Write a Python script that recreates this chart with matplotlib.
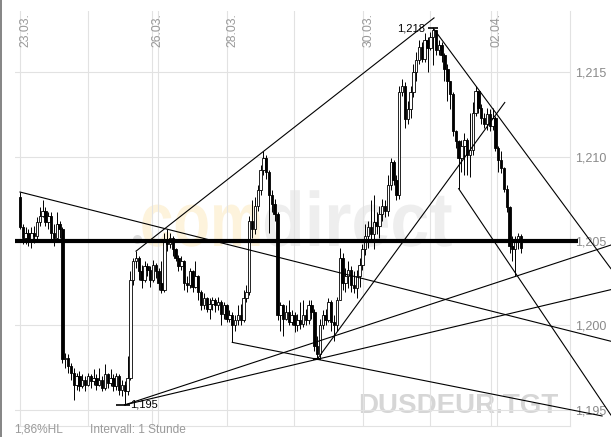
import numpy as np
import matplotlib
matplotlib.use('Agg')
import matplotlib.pyplot as plt
from matplotlib.textpath import TextPath
from matplotlib.patches import PathPatch
from matplotlib.font_manager import FontProperties
from matplotlib.transforms import Affine2D
from matplotlib.lines import Line2D
from matplotlib.ticker import FuncFormatter

plt.rcParams['font.family'] = ['Liberation Sans', 'DejaVu Sans']

W, H = 611, 437

# hourly candles, USD/EUR, open of the first candle, then close / high / low
first_open = 1.2076
closes = [1.2058, 1.2052, 1.2055, 1.2051, 1.2055, 1.2053, 1.2061, 1.2065, 1.2068, 1.2061,
          1.2065, 1.2055, 1.2052, 1.2060, 1.2057, 1.1980, 1.1981, 1.1976, 1.1972, 1.1965,
          1.1970, 1.1964, 1.1968, 1.1965, 1.1970, 1.1967, 1.1969, 1.1965, 1.1968, 1.1963,
          1.1971, 1.1966, 1.1969, 1.1964, 1.1970, 1.1962, 1.1965, 1.1961, 1.1969, 1.2027,
          1.2038, 1.2040, 1.2032, 1.2027, 1.2035, 1.2033, 1.2027, 1.2036, 1.2032, 1.2025,
          1.2021, 1.2051, 1.2048, 1.2052, 1.2045, 1.2040, 1.2035, 1.2038, 1.2025, 1.2024,
          1.2032, 1.2023, 1.2029, 1.2020, 1.2012, 1.2016, 1.2010, 1.2013, 1.2015, 1.2012,
          1.2014, 1.2007, 1.2012, 1.2004, 1.2006, 1.2000, 1.2003, 1.2006, 1.2003, 1.2016,
          1.2020, 1.2062, 1.2057, 1.2071, 1.2080, 1.2092, 1.2099, 1.2091, 1.2077, 1.2072,
          1.2066, 1.2006, 1.2012, 1.2004, 1.2008, 1.2002, 1.2006, 1.2000, 1.2003, 1.2001,
          1.2006, 1.2003, 1.2012, 1.2008, 1.1988, 1.1983, 1.2000, 1.2006, 1.2003, 1.2014,
          1.2002, 1.2000, 1.2015, 1.2040, 1.2025, 1.2029, 1.2033, 1.2024, 1.2022, 1.2029,
          1.2036, 1.2045, 1.2053, 1.2058, 1.2054, 1.2061, 1.2059, 1.2066, 1.2071, 1.2068,
          1.2083, 1.2097, 1.2086, 1.2077, 1.2138, 1.2142, 1.2122, 1.2128, 1.2138, 1.2150,
          1.2157, 1.2165, 1.2158, 1.2169, 1.2164, 1.2171, 1.2175, 1.2163, 1.2166, 1.2160,
          1.2152, 1.2145, 1.2137, 1.2115, 1.2109, 1.2099, 1.2106, 1.2110, 1.2101, 1.2104,
          1.2126, 1.2139, 1.2129, 1.2123, 1.2119, 1.2125, 1.2118, 1.2123, 1.2105, 1.2098,
          1.2093, 1.2081, 1.2070, 1.2047, 1.2045, 1.2051, 1.2053, 1.2046]
highs = [1.2079, 1.2060, 1.2058, 1.2057, 1.2058, 1.2059, 1.2064, 1.2070, 1.2074, 1.2070,
         1.2067, 1.2067, 1.2060, 1.2067, 1.2062, 1.2058, 1.1984, 1.1983, 1.1978, 1.1975,
         1.1972, 1.1973, 1.1971, 1.1970, 1.1972, 1.1971, 1.1974, 1.1971, 1.1975, 1.1970,
         1.1977, 1.1972, 1.1974, 1.1971, 1.1972, 1.1971, 1.1968, 1.1967, 1.1982, 1.2032,
         1.2040, 1.2044, 1.2041, 1.2036, 1.2038, 1.2037, 1.2035, 1.2039, 1.2037, 1.2034,
         1.2038, 1.2055, 1.2057, 1.2055, 1.2053, 1.2046, 1.2042, 1.2041, 1.2039, 1.2029,
         1.2034, 1.2033, 1.2038, 1.2030, 1.2021, 1.2019, 1.2017, 1.2016, 1.2017, 1.2016,
         1.2017, 1.2015, 1.2014, 1.2013, 1.2009, 1.2008, 1.2006, 1.2012, 1.2013, 1.2021,
         1.2024, 1.2065, 1.2074, 1.2076, 1.2083, 1.2095, 1.2103, 1.2101, 1.2092, 1.2080,
         1.2075, 1.2067, 1.2014, 1.2013, 1.2012, 1.2015, 1.2009, 1.2008, 1.2007, 1.2014,
         1.2015, 1.2010, 1.2015, 1.2015, 1.2010, 1.1994, 1.2004, 1.2009, 1.2010, 1.2016,
         1.2015, 1.2006, 1.2017, 1.2046, 1.2043, 1.2034, 1.2038, 1.2035, 1.2032, 1.2033,
         1.2040, 1.2048, 1.2060, 1.2062, 1.2074, 1.2077, 1.2067, 1.2071, 1.2075, 1.2074,
         1.2089, 1.2099, 1.2098, 1.2089, 1.2142, 1.2146, 1.2144, 1.2133, 1.2142, 1.2155,
         1.2162, 1.2169, 1.2168, 1.2173, 1.2171, 1.2174, 1.2176, 1.2175, 1.2169, 1.2168,
         1.2161, 1.2155, 1.2143, 1.2138, 1.2116, 1.2110, 1.2110, 1.2114, 1.2111, 1.2126,
         1.2132, 1.2142, 1.2138, 1.2131, 1.2126, 1.2129, 1.2128, 1.2129, 1.2124, 1.2106,
         1.2103, 1.2094, 1.2083, 1.2071, 1.2053, 1.2053, 1.2055, 1.2054]
lows = [1.2057, 1.2048, 1.2048, 1.2047, 1.2046, 1.2049, 1.2051, 1.2059, 1.2064, 1.2059,
        1.2057, 1.2051, 1.2047, 1.2051, 1.2052, 1.1978, 1.1975, 1.1972, 1.1968, 1.1956,
        1.1962, 1.1961, 1.1963, 1.1961, 1.1964, 1.1963, 1.1965, 1.1962, 1.1964, 1.1961,
        1.1962, 1.1963, 1.1964, 1.1961, 1.1962, 1.1959, 1.1958, 1.1953, 1.1959, 1.1968,
        1.2024, 1.2034, 1.2027, 1.2022, 1.2026, 1.2029, 1.2023, 1.2026, 1.2028, 1.2021,
        1.2019, 1.2020, 1.2044, 1.2046, 1.2041, 1.2038, 1.2032, 1.2033, 1.2021, 1.2020,
        1.2022, 1.2020, 1.2022, 1.2015, 1.2009, 1.2010, 1.2008, 1.2004, 1.2009, 1.2008,
        1.2009, 1.2000, 1.2004, 1.2002, 1.2002, 1.1990, 1.1997, 1.2000, 1.2000, 1.2002,
        1.2014, 1.2018, 1.2052, 1.2054, 1.2068, 1.2077, 1.2089, 1.2087, 1.2055, 1.2067,
        1.2062, 1.2003, 1.1997, 1.1994, 1.2003, 1.2000, 1.2000, 1.1996, 1.1997, 1.1998,
        1.1999, 1.2000, 1.2001, 1.2004, 1.1985, 1.1980, 1.1981, 1.1998, 1.2000, 1.2002,
        1.1997, 1.1991, 1.1997, 1.2015, 1.2021, 1.2020, 1.2022, 1.2020, 1.2019, 1.2016,
        1.2023, 1.2033, 1.2042, 1.2046, 1.2051, 1.2045, 1.2054, 1.2052, 1.2062, 1.2064,
        1.2065, 1.2080, 1.2083, 1.2074, 1.2075, 1.2136, 1.2117, 1.2119, 1.2123, 1.2135,
        1.2145, 1.2155, 1.2156, 1.2156, 1.2150, 1.2163, 1.2154, 1.2160, 1.2160, 1.2156,
        1.2145, 1.2133, 1.2128, 1.2112, 1.2105, 1.2081, 1.2091, 1.2089, 1.2089, 1.2088,
        1.2101, 1.2124, 1.2126, 1.2119, 1.2117, 1.2116, 1.2115, 1.2116, 1.2103, 1.2091,
        1.2090, 1.2079, 1.2067, 1.2043, 1.2038, 1.2029, 1.2045, 1.2043]

# day separators (in candle index) and the dated ones
day_lines = [0, 24.0, 46.6, 48.8, 73.1, 96.8, 121.2, 144.9, 166.4, 168.6]
day_labels = ['23.03.', '26.03.', '28.03.', '30.03.', '02.04.']
day_label_pos = [0, 46.6, 73.1, 121.2, 166.4]
price_ticks = [1.195, 1.200, 1.205, 1.210, 1.215]
support_level = 1.205

# trend lines: start anchor, second anchor, index where the line stops
# anchor is ('H'/'L', candle) or (candle index, price)
trend_lines = [
    (('H', 0), ('H', 52), 208.8),
    (('H', 41), ('H', 86), 146.3),
    (('H', 146), ('H', 161), 208.8),
    (('L', 155), (208.8, 1.1947), 208.8),
    (('L', 105), (171.3, 1.2132), 171.3),
    (('L', 37), ('L', 175), 208.8),
    (('L', 37), ('L', 105), 208.8),
    (('L', 75), ('L', 105), 205.7),
]
low_idx, top_idx, low2_idx = 37, 146, 105


def fmt(v):
    return f'{v:.3f}'.replace('.', ',')


c = np.array(closes)
o = np.r_[first_open, c[:-1]]
h = np.maximum(np.array(highs), np.maximum(o, c))
l = np.minimum(np.array(lows), np.minimum(o, c))
x = np.arange(len(c))

fig = plt.figure(figsize=(W / 100, H / 100), dpi=100)
ax = fig.add_axes([15 / W, (H - 426) / H, (570 - 15) / W, (426 - 11) / H])

# watermarks
fp = FontProperties(family='Liberation Sans', weight='bold')


def watermark(s, x_px, base_px, sx, sy, color):
    path = TextPath((0, 0), s, size=1, prop=fp)
    tr = Affine2D().scale(sx / W, sy / H).translate(x_px / W, 1 - base_px / H) + fig.transFigure
    ax.add_patch(PathPatch(path, transform=tr, facecolor=color, edgecolor='none',
                           zorder=0.2, clip_on=False))


watermark('com', 140, 246, 60, 77, '#fdf3dc')
watermark('direct', 262, 246, 70, 77, '#eeeeee')
ax.plot([137 / W], [1 - 239 / H], 'o', ms=6.5, color='#dcdcdc', mec='none',
        transform=fig.transFigure, zorder=0.2)
ax.text(458 / W, 1 - 406 / H, 'DUSDEUR.TGT', transform=fig.transFigure, ha='center',
        va='center', fontsize=20, fontweight='bold', color='#d6d6d6', zorder=0.3)

# candles
up = c >= o
ax.vlines(x, l, h, color='black', lw=0.7, zorder=3)
ax.bar(x, c - o, bottom=o, width=0.85, color=np.where(up, 'white', 'black'),
       edgecolor='black', lw=0.6, zorder=4)


def point(a):
    if isinstance(a[0], str):
        return a[1], (h if a[0] == 'H' else l)[a[1]]
    return a


for a, b, stop in trend_lines:
    x0, y0 = point(a)
    x1, y1 = point(b)
    y_end = y0 + (y1 - y0) / (x1 - x0) * (stop - x0)
    ax.plot([x0, stop], [y0, y_end], color='black', lw=0.8, zorder=5, clip_on=False)

ax.plot([-1.77, 197.2], [support_level, support_level], color='black', lw=3,
        zorder=6, clip_on=False, solid_capstyle='butt')

# extreme markers
ax.hlines(l[low_idx], low_idx - 3, low_idx + 2, color='black', lw=1.2, zorder=6)
ax.hlines(h[top_idx], top_idx - 1.8, top_idx + 1.7, color='black', lw=1.2, zorder=6)
ax.hlines(l[low2_idx], low2_idx - 1.5, low2_idx + 1.2, color='black', lw=1.5, zorder=6)
ax.text(low_idx + 1.9, l[low_idx], fmt(l[low_idx]), ha='left', va='center', fontsize=8, zorder=7)
ax.text(top_idx - 2.9, h[top_idx], fmt(h[top_idx]), ha='right', va='center', fontsize=8, zorder=7)

# axes styling
ax.set_xlim(-1.767, 194.35)
ax.set_ylim(1.19405, 1.218615)
ax.set_xticks(day_lines)
ax.set_yticks(price_ticks)
ax.yaxis.tick_right()
ax.yaxis.set_major_formatter(FuncFormatter(lambda v, p: fmt(v)))
ax.tick_params(axis='x', length=0, labelbottom=False)
ax.tick_params(axis='y', length=0, pad=3.6, labelsize=9, labelcolor='#8a8a8a')
ax.grid(True, color='#e2e2e2', lw=0.8)
ax.set_axisbelow(True)
for side in ['top', 'left']:
    ax.spines[side].set_visible(False)
for side in ['right', 'bottom']:
    ax.spines[side].set_color('#e2e2e2')
    ax.spines[side].set_linewidth(0.8)

for pos, lab in zip(day_label_pos, day_labels):
    ax.annotate(lab, (pos, 1), xycoords=('data', 'axes fraction'), xytext=(4, -1.5),
                textcoords='offset points', rotation=90, ha='center', va='top',
                fontsize=8.8, color='#999999')

fig.text(14 / W, 1 - 430 / H, '1,86%HL', ha='left', va='center', fontsize=8.6, color='#9a9a9a')
fig.text(90 / W, 1 - 430 / H, 'Intervall: 1 Stunde', ha='left', va='center', fontsize=8.6,
         color='#9a9a9a')
fig.add_artist(Line2D([0.8 / W, 0.8 / W], [0, 1], transform=fig.transFigure,
                      color='#707070', lw=1.2))

fig.savefig('out.png', dpi=100)
